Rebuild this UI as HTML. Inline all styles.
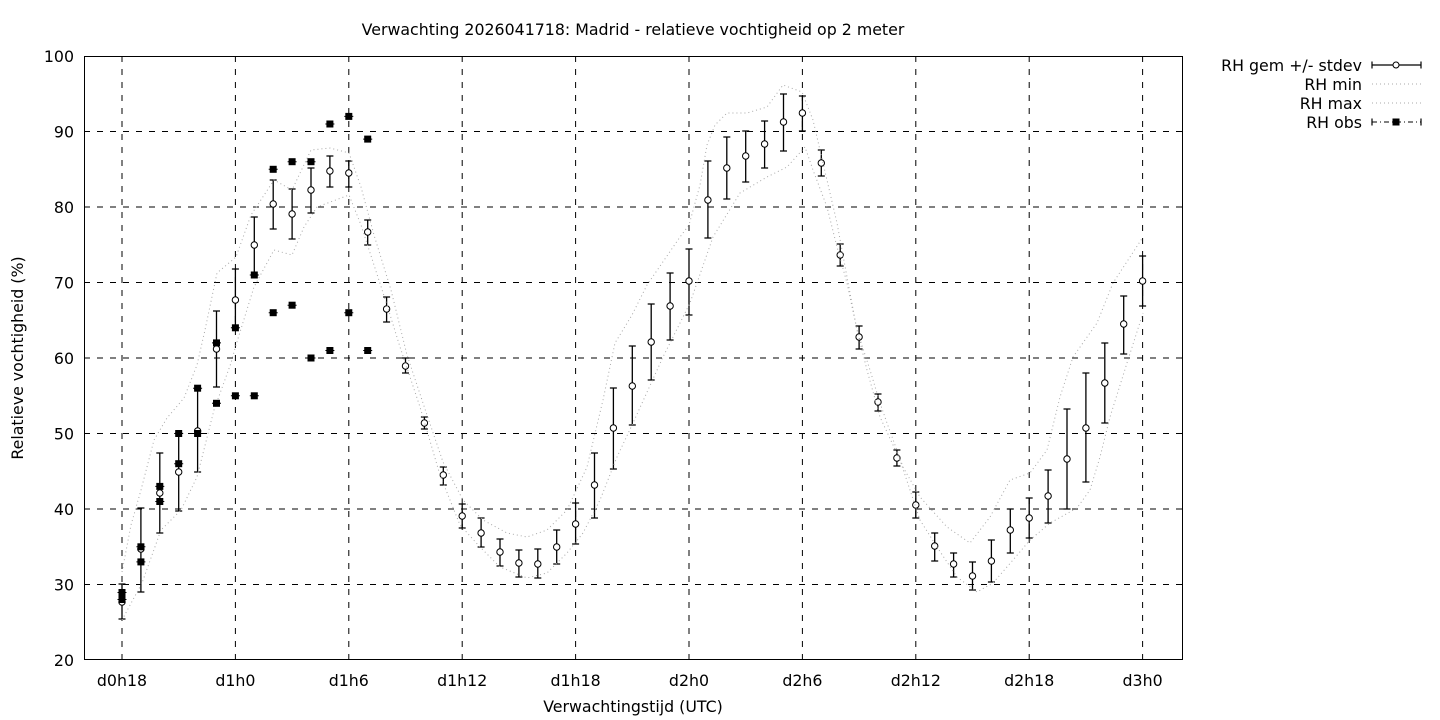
<!DOCTYPE html>
<html><head><meta charset="utf-8"><style>
html,body{margin:0;padding:0;background:#fff;}
svg{display:block;}
text{font-family:"DejaVu Sans","Liberation Sans",sans-serif;font-size:15.8px;fill:#000;}
</style></head><body>
<svg width="1440" height="720" viewBox="0 0 1440 720" xmlns="http://www.w3.org/2000/svg">
<rect width="1440" height="720" fill="#fff"/>
<text x="633" y="35" text-anchor="middle">Verwachting 2026041718: Madrid - relatieve vochtigheid op 2 meter</text>
<!-- grid -->
<g stroke="#000" stroke-width="1" stroke-dasharray="6,7" fill="none">
<path d="M84 131.5H1182M84 207H1182M84 282.5H1182M84 358H1182M84 433.5H1182M84 509H1182M84 584.5H1182"/>
<path d="M122 56V660M235.4 56V660M348.8 56V660M462.2 56V660M575.6 56V660M689 56V660M802.4 56V660M915.8 56V660M1029.2 56V660M1142.6 56V660"/>
</g>
<rect x="84.5" y="56.5" width="1098" height="603" fill="none" stroke="#000" stroke-width="1"/>
<!-- y ticks -->
<g text-anchor="end">
<text x="74" y="62">100</text>
<text x="74" y="137.5">90</text>
<text x="74" y="213">80</text>
<text x="74" y="288.5">70</text>
<text x="74" y="364">60</text>
<text x="74" y="439.5">50</text>
<text x="74" y="515">40</text>
<text x="74" y="590.5">30</text>
<text x="74" y="666">20</text>
</g>
<g text-anchor="middle">
<text x="122" y="686">d0h18</text>
<text x="235.4" y="686">d1h0</text>
<text x="348.8" y="686">d1h6</text>
<text x="462.2" y="686">d1h12</text>
<text x="575.6" y="686">d1h18</text>
<text x="689" y="686">d2h0</text>
<text x="802.4" y="686">d2h6</text>
<text x="915.8" y="686">d2h12</text>
<text x="1029.2" y="686">d2h18</text>
<text x="1142.6" y="686">d3h0</text>
<text x="633" y="712">Verwachtingstijd (UTC)</text>
</g>
<text transform="translate(23,358) rotate(-90)" text-anchor="middle">Relatieve vochtigheid (%)</text>

<!-- mean error bars -->
<path fill="none" stroke="#000" stroke-width="1.3" d="M122 584V619M118.5 584h7M118.5 619h7M140.9 508V592M137.4 508h7M137.4 592h7M159.8 453V533M156.3 453h7M156.3 533h7M178.7 433V511M175.2 433h7M175.2 511h7M197.6 389V472M194.1 389h7M194.1 472h7M216.5 311V387M213 311h7M213 387h7M235.4 269V328M231.9 269h7M231.9 328h7M254.3 217V275M250.8 217h7M250.8 275h7M273.2 180V229M269.7 180h7M269.7 229h7M292.1 189V239M288.6 189h7M288.6 239h7M311 168V213M307.5 168h7M307.5 213h7M329.9 156V187M326.4 156h7M326.4 187h7M348.8 161V187M345.3 161h7M345.3 187h7M367.7 220V245M364.2 220h7M364.2 245h7M386.6 297V322M383.1 297h7M383.1 322h7M405.5 358V373M402 358h7M402 373h7M424.4 417V429M420.9 417h7M420.9 429h7M443.3 467V485M439.8 467h7M439.8 485h7M462.2 504V528M458.7 504h7M458.7 528h7M481.1 518V547M477.6 518h7M477.6 547h7M500 539V566M496.5 539h7M496.5 566h7M518.9 550V577M515.4 550h7M515.4 577h7M537.8 549V578M534.3 549h7M534.3 578h7M556.7 530V564M553.2 530h7M553.2 564h7M575.6 503V544M572.1 503h7M572.1 544h7M594.5 453V518M591 453h7M591 518h7M613.4 388V469M609.9 388h7M609.9 469h7M632.3 346V425M628.8 346h7M628.8 425h7M651.2 304V380M647.7 304h7M647.7 380h7M670.1 273V340M666.6 273h7M666.6 340h7M689 249V315M685.5 249h7M685.5 315h7M707.9 161V238M704.4 161h7M704.4 238h7M726.8 137V199M723.3 137h7M723.3 199h7M745.7 131V182M742.2 131h7M742.2 182h7M764.6 121V168M761.1 121h7M761.1 168h7M783.5 94V151M780 94h7M780 151h7M802.4 96V131M798.9 96h7M798.9 131h7M821.3 150V176M817.8 150h7M817.8 176h7M840.2 244V266M836.7 244h7M836.7 266h7M859.1 326V349M855.6 326h7M855.6 349h7M878 394V411M874.5 394h7M874.5 411h7M896.9 450V466M893.4 450h7M893.4 466h7M915.8 492V518M912.3 492h7M912.3 518h7M934.7 533V561M931.2 533h7M931.2 561h7M953.6 553V577M950.1 553h7M950.1 577h7M972.5 562V590M969 562h7M969 590h7M991.4 540V582M987.9 540h7M987.9 582h7M1010.3 509V553M1006.8 509h7M1006.8 553h7M1029.2 498V538M1025.7 498h7M1025.7 538h7M1048.1 470V523M1044.6 470h7M1044.6 523h7M1067 409V509M1063.5 409h7M1063.5 509h7M1085.9 373V482M1082.4 373h7M1082.4 482h7M1104.8 343V423M1101.3 343h7M1101.3 423h7M1123.7 296V354M1120.2 296h7M1120.2 354h7M1142.6 256V306M1139.1 256h7M1139.1 306h7"/>
<g fill="#fff" stroke="#000" stroke-width="1">
<circle cx="122" cy="602" r="3.2"/><circle cx="140.9" cy="549" r="3.2"/><circle cx="159.8" cy="493" r="3.2"/><circle cx="178.7" cy="472" r="3.2"/><circle cx="197.6" cy="431" r="3.2"/><circle cx="216.5" cy="349" r="3.2"/><circle cx="235.4" cy="300" r="3.2"/><circle cx="254.3" cy="245" r="3.2"/><circle cx="273.2" cy="204" r="3.2"/><circle cx="292.1" cy="214" r="3.2"/><circle cx="311" cy="190" r="3.2"/><circle cx="329.9" cy="171" r="3.2"/><circle cx="348.8" cy="173" r="3.2"/><circle cx="367.7" cy="232" r="3.2"/><circle cx="386.6" cy="309" r="3.2"/><circle cx="405.5" cy="366" r="3.2"/><circle cx="424.4" cy="423" r="3.2"/><circle cx="443.3" cy="475" r="3.2"/><circle cx="462.2" cy="516" r="3.2"/><circle cx="481.1" cy="533" r="3.2"/><circle cx="500" cy="552" r="3.2"/><circle cx="518.9" cy="563" r="3.2"/><circle cx="537.8" cy="564" r="3.2"/><circle cx="556.7" cy="547" r="3.2"/><circle cx="575.6" cy="524" r="3.2"/><circle cx="594.5" cy="485" r="3.2"/><circle cx="613.4" cy="428" r="3.2"/><circle cx="632.3" cy="386" r="3.2"/><circle cx="651.2" cy="342" r="3.2"/><circle cx="670.1" cy="306" r="3.2"/><circle cx="689" cy="281" r="3.2"/><circle cx="707.9" cy="200" r="3.2"/><circle cx="726.8" cy="168" r="3.2"/><circle cx="745.7" cy="156" r="3.2"/><circle cx="764.6" cy="144" r="3.2"/><circle cx="783.5" cy="122" r="3.2"/><circle cx="802.4" cy="113" r="3.2"/><circle cx="821.3" cy="163" r="3.2"/><circle cx="840.2" cy="255" r="3.2"/><circle cx="859.1" cy="337" r="3.2"/><circle cx="878" cy="402" r="3.2"/><circle cx="896.9" cy="458" r="3.2"/><circle cx="915.8" cy="505" r="3.2"/><circle cx="934.7" cy="546" r="3.2"/><circle cx="953.6" cy="564" r="3.2"/><circle cx="972.5" cy="576" r="3.2"/><circle cx="991.4" cy="561" r="3.2"/><circle cx="1010.3" cy="530" r="3.2"/><circle cx="1029.2" cy="518" r="3.2"/><circle cx="1048.1" cy="496" r="3.2"/><circle cx="1067" cy="459" r="3.2"/><circle cx="1085.9" cy="428" r="3.2"/><circle cx="1104.8" cy="383" r="3.2"/><circle cx="1123.7" cy="324" r="3.2"/><circle cx="1142.6" cy="281" r="3.2"/>
</g>
<!-- min / max -->
<g fill="none" stroke="#a8a8a8" stroke-width="1" stroke-dasharray="1,3">
<polyline points="122,620 142,583 161,530 181,510 197,477 214,410 231,363 236,345 254,287 274,250 292,255 304,227 317,207 349,195 361,225 374,265 387,305 400,347 420,407 440,475 460,525 480,547 500,567 527,578 547,573 567,553 583,533 600,500 617,457 633,423 663,357 690,303 713,237 740,193 767,177 787,167 805,147 813,170 827,207 837,247 847,283 857,330 867,370 880,417 900,460 920,520 937,547 957,577 977,592 993,583 1013,560 1030,540 1050,523 1077,508 1090,490 1100,457 1110,417 1127,363 1143,313"/>
<polyline points="122,572 131,525 141,490 154,440 167,418 184,398 197,365 205,330 217,273 236,257 251,215 274,180 292,190 311,150 330,148 349,153 361,187 374,235 391,290 407,355 427,415 443,462 463,500 483,520 507,533 527,537 547,530 567,510 587,467 603,400 615,343 632,315 647,285 680,237 689,225 700,185 707,145 715,125 727,113 747,113 767,107 783,85 802,92 813,120 823,163 837,223 847,277 857,330 870,370 880,403 887,423 903,467 920,497 947,527 970,543 990,517 1010,480 1030,473 1047,450 1060,397 1073,357 1097,323 1113,283 1130,257 1143,237"/>
</g>
<!-- obs -->
<g fill="#000">
<rect x="118.5" y="589" width="7" height="7"/><rect x="118.5" y="596" width="7" height="7"/>
<rect x="137.4" y="543.3" width="7" height="7"/><rect x="137.4" y="558.4" width="7" height="7"/>
<rect x="156.3" y="482.9" width="7" height="7"/><rect x="156.3" y="498" width="7" height="7"/>
<rect x="175.2" y="430" width="7" height="7"/><rect x="175.2" y="460.2" width="7" height="7"/>
<rect x="194.1" y="384.7" width="7" height="7"/><rect x="194.1" y="430" width="7" height="7"/>
<rect x="213" y="339.4" width="7" height="7"/><rect x="213" y="399.8" width="7" height="7"/>
<rect x="231.9" y="324.3" width="7" height="7"/><rect x="231.9" y="392.3" width="7" height="7"/>
<rect x="250.8" y="271.5" width="7" height="7"/><rect x="250.8" y="392.3" width="7" height="7"/>
<rect x="269.7" y="165.8" width="7" height="7"/><rect x="269.7" y="309.2" width="7" height="7"/>
<rect x="288.6" y="158.2" width="7" height="7"/><rect x="288.6" y="301.7" width="7" height="7"/>
<rect x="307.5" y="158.2" width="7" height="7"/><rect x="307.5" y="354.5" width="7" height="7"/>
<rect x="326.4" y="120.5" width="7" height="7"/><rect x="326.4" y="347" width="7" height="7"/>
<rect x="345.3" y="112.9" width="7" height="7"/><rect x="345.3" y="309.2" width="7" height="7"/>
<rect x="364.2" y="135.6" width="7" height="7"/><rect x="364.2" y="347" width="7" height="7"/>
</g>
<path fill="none" stroke="#000" stroke-width="1" d="M117.5 592.5h9M117.5 599.5h9M136.4 546.8h9M136.4 561.9h9M155.3 486.4h9M155.3 501.5h9M174.2 433.5h9M174.2 463.7h9M193.1 388.2h9M193.1 433.5h9M212 342.9h9M212 403.3h9M230.9 327.8h9M230.9 395.8h9M249.8 275h9M249.8 395.8h9M268.7 169.3h9M268.7 312.7h9M287.6 161.7h9M287.6 305.2h9M306.5 161.7h9M306.5 358h9M325.4 124h9M325.4 350.5h9M344.3 116.4h9M344.3 312.7h9M363.2 139.1h9M363.2 350.5h9"/>
<!-- legend -->
<g text-anchor="end">
<text x="1362" y="71">RH gem +/- stdev</text>
<text x="1362" y="90">RH min</text>
<text x="1362" y="109">RH max</text>
<text x="1362" y="128">RH obs</text>
</g>
<path d="M1372 65H1421M1372 61.5V68.5M1421 61.5V68.5" stroke="#000" stroke-width="1.2" fill="none"/>
<circle cx="1396" cy="65" r="3" fill="#fff" stroke="#000" stroke-width="1"/>
<path d="M1372 84H1421M1372 103H1421" stroke="#a8a8a8" stroke-width="1" stroke-dasharray="1,3" fill="none"/>
<path d="M1372 122H1421" stroke="#000" stroke-width="1" stroke-dasharray="5,3,1,3" fill="none"/>
<path d="M1372 118.5V125.5M1421 118.5V125.5" stroke="#000" stroke-width="1.2"/>
<rect x="1392.5" y="118.5" width="7" height="7" fill="#000"/>
</svg>
</body></html>
